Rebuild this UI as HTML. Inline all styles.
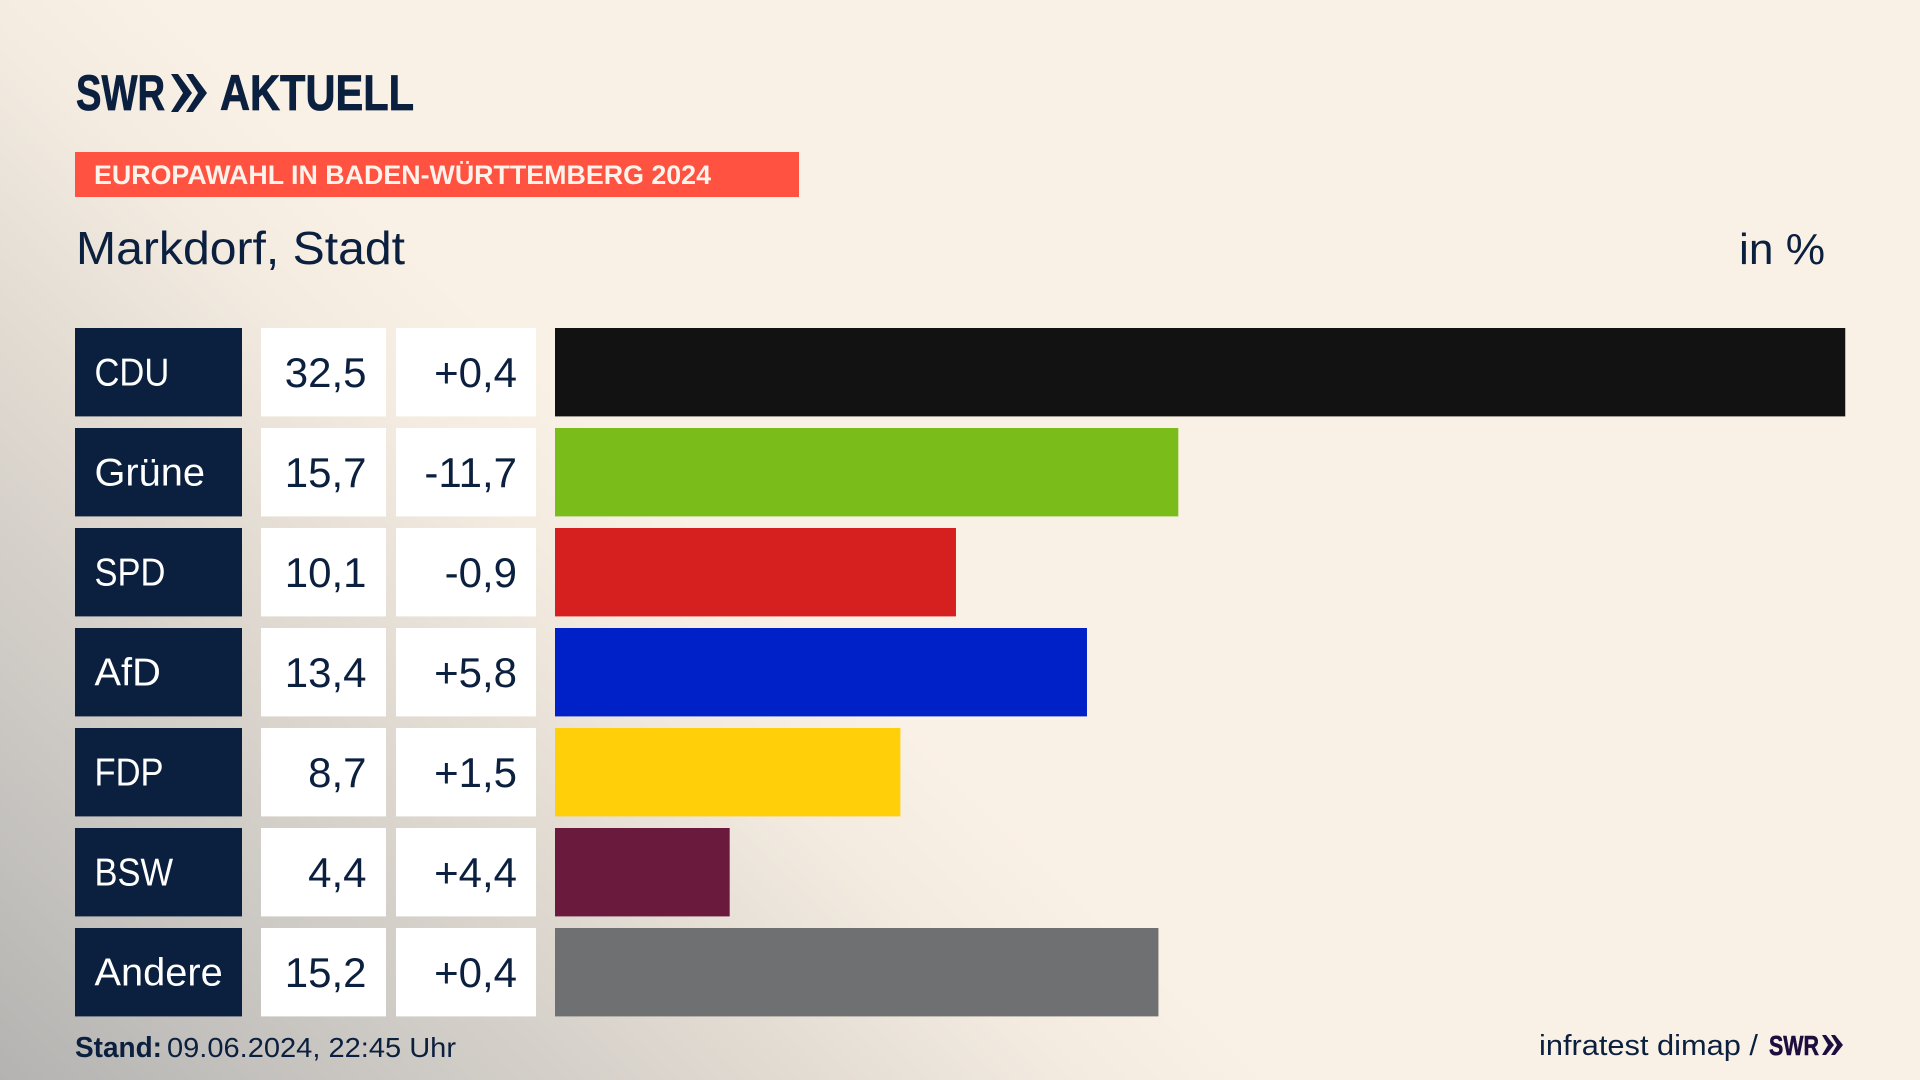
<!DOCTYPE html>
<html lang="de">
<head>
<meta charset="utf-8">
<title>Europawahl in Baden-Württemberg 2024 – Markdorf, Stadt</title>
<style>
html,body{margin:0;padding:0;width:1920px;height:1080px;overflow:hidden;background:#faf1e6}
svg{display:block;position:absolute;left:0;top:0}
text{font-family:"Liberation Sans",sans-serif}
</style>
</head>
<body>
<svg id="chart" xmlns="http://www.w3.org/2000/svg" width="1920" height="1080" viewBox="0 0 1920 1080">
  <defs>
    <linearGradient id="bgCorner" gradientUnits="userSpaceOnUse" x1="0" y1="1080" x2="649" y2="406">
      <stop offset="0" stop-color="#b4b3b1"/>
      <stop offset="0.25" stop-color="#c8c5c1"/>
      <stop offset="0.44" stop-color="#d6d1ca"/>
      <stop offset="0.6" stop-color="#e3dcd3"/>
      <stop offset="0.8" stop-color="#f3ebe0"/>
      <stop offset="0.95" stop-color="#faf1e6"/>
    </linearGradient>
  </defs>
  <rect width="1920" height="1080" fill="url(#bgCorner)"/>

  <g fill="#0b1f3f" stroke="#0b1f3f" stroke-width="0.8">
    <text x="76" y="110" font-size="50" font-weight="700" textLength="89" lengthAdjust="spacingAndGlyphs">SWR</text>
    <path d="M171 74 L178 74 L192 93 L178 112 L171 112 L183 93 Z M186 74 L193 74 L207 93 L193 112 L186 112 L198 93 Z" stroke="none"/>
    <text x="220" y="110" font-size="50" font-weight="700" textLength="194" lengthAdjust="spacingAndGlyphs">AKTUELL</text>
  </g>

  <rect x="75" y="152" width="724" height="45" fill="#ff5240"/>
  <text x="94" y="184" font-size="27" font-weight="700" fill="#fdf3ea" textLength="617" lengthAdjust="spacingAndGlyphs">EUROPAWAHL IN BADEN-WÜRTTEMBERG 2024</text>

  <text x="76" y="264" font-size="46" fill="#0b1f3f" textLength="329" lengthAdjust="spacingAndGlyphs">Markdorf, Stadt</text>
  <text x="1739" y="264" font-size="44" fill="#0b1f3f" textLength="86" lengthAdjust="spacingAndGlyphs">in %</text>

  <g id="rows"></g>

  <text x="75" y="1057" font-size="29" font-weight="700" fill="#0b1f3f" textLength="87" lengthAdjust="spacingAndGlyphs">Stand:</text>
  <text x="167" y="1057" font-size="28" fill="#0b1f3f" textLength="289" lengthAdjust="spacingAndGlyphs">09.06.2024, 22:45 Uhr</text>

  <text x="1539" y="1055" font-size="29" fill="#0b1f3f" textLength="219" lengthAdjust="spacingAndGlyphs">infratest dimap /</text>
  <text x="1769" y="1055" font-size="28" font-weight="700" fill="#1c0f3f" stroke="#1c0f3f" stroke-width="0.6" textLength="50" lengthAdjust="spacingAndGlyphs">SWR</text>
  <path d="M1822 1035 L1826 1035 L1834 1045 L1826 1055 L1822 1055 L1828 1045 Z M1831 1035 L1835 1035 L1843 1045 L1835 1055 L1831 1055 L1837 1045 Z" fill="#1c0f3f"/>
</svg>

<script>
const categories = ["CDU", "Grüne", "SPD", "AfD", "FDP", "BSW", "Andere"];
const shareValues = [32.5, 15.7, 10.1, 13.4, 8.7, 4.4, 15.2];
const changeValues = [0.4, -11.7, -0.9, 5.8, 1.5, 4.4, 0.4];
const barColors = ["#121212", "#7abd1a", "#d61f1f", "#0021c8", "#ffcf0a", "#6a1a3d", "#6f7072"];

const SVG_NS = "http://www.w3.org/2000/svg";
const rowsGroup = document.getElementById("rows");
const rowTop0 = 328, rowPitch = 100, rowHeight = 88.4;
const barX0 = 555, pxPerUnit = 39.7;

function xScale(v) { return v * pxPerUnit; }
function yScale(i) { return rowTop0 + i * rowPitch; }
function fmt(v) { return v.toFixed(1).replace(".", ","); }
function fmtChange(v) { return (v > 0 ? "+" : "") + fmt(v); }
function make(tag, attrs) {
  const el = document.createElementNS(SVG_NS, tag);
  for (const k in attrs) el.setAttribute(k, attrs[k]);
  return el;
}

categories.forEach(function (name, i) {
  const y = yScale(i);
  const key = name.toLowerCase().replace("ü", "ue");

  const labelBox = make("rect", { x: 75, y: y, width: 167, height: rowHeight, fill: "#0b1f3f" });
  
  
  rowsGroup.appendChild(labelBox);

  const isCaps = name === name.toUpperCase();
  const label = make("text", { "font-size": 39, fill: "#ffffff",
    transform: "translate(94.5 " + (y + 57.5) + ") scale(" + (isCaps ? 0.885 : 1.02) + " 1)" });
  
  
  label.textContent = name;
  rowsGroup.appendChild(label);

  const shareBox = make("rect", { x: 261, y: y, width: 125, height: rowHeight, fill: "#ffffff" });
  
  
  rowsGroup.appendChild(shareBox);

  const share = make("text", { x: 366.5, y: y + 59, "font-size": 42, fill: "#0b1f3f", "text-anchor": "end" });
  
  
  share.textContent = fmt(shareValues[i]);
  rowsGroup.appendChild(share);

  const changeBox = make("rect", { x: 396, y: y, width: 140, height: rowHeight, fill: "#ffffff" });
  
  
  rowsGroup.appendChild(changeBox);

  const change = make("text", { x: 517, y: y + 59, "font-size": 42, fill: "#0b1f3f", "text-anchor": "end" });
  
  
  change.textContent = fmtChange(changeValues[i]);
  rowsGroup.appendChild(change);

  const bar = make("rect", { x: barX0, y: y, width: xScale(shareValues[i]), height: rowHeight, fill: barColors[i] });
  
  
  rowsGroup.appendChild(bar);
});
</script>
</body>
</html>
